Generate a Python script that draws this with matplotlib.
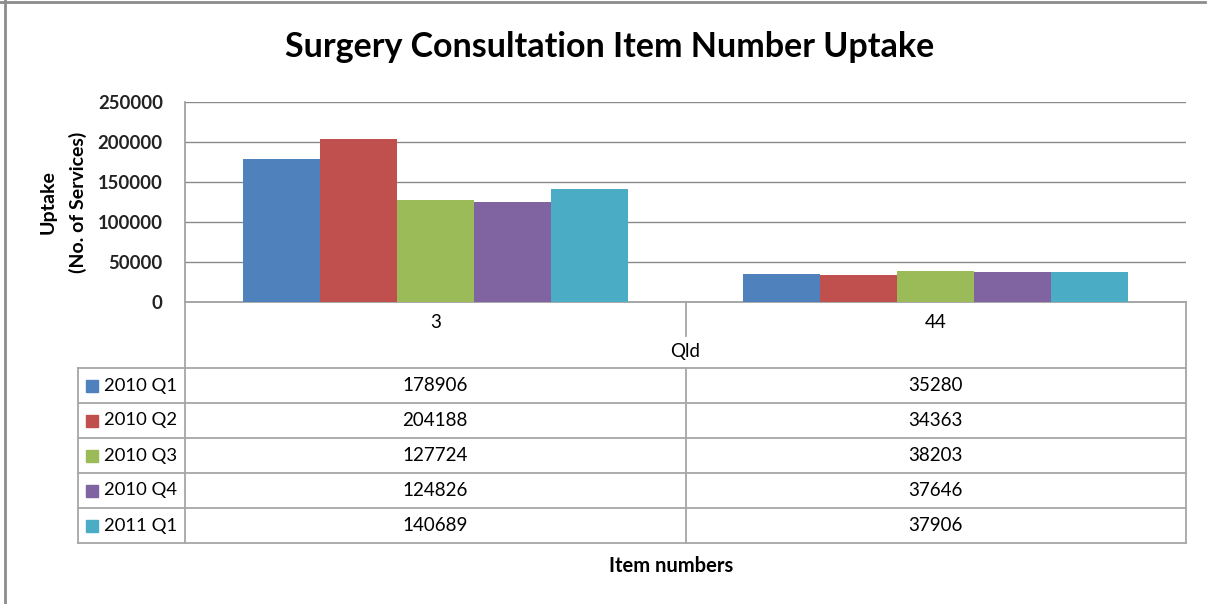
import numpy as np
import matplotlib
matplotlib.use("Agg")
import matplotlib.pyplot as plt
from matplotlib.lines import Line2D
from matplotlib.patches import Rectangle

plt.rcParams["font.family"] = ["Lato", "DejaVu Sans"]

# data
categories = ["3", "44"]
group_label = "Qld"
series_names = ["2010 Q1", "2010 Q2", "2010 Q3", "2010 Q4", "2011 Q1"]
q1_2010 = [178906, 35280]
q2_2010 = [204188, 34363]
q3_2010 = [127724, 38203]
q4_2010 = [124826, 37646]
q1_2011 = [140689, 37906]
series_values = [q1_2010, q2_2010, q3_2010, q4_2010, q1_2011]
colors = ["#4F81BD", "#C0504D", "#9BBB59", "#8064A2", "#4BACC6"]

W, H = 1207, 604
fig = plt.figure(figsize=(W / 100, H / 100), dpi=100)

# plot area (pixel layout)
left, right, top, bottom = 185, 1186, 102, 302
ax = fig.add_axes([left / W, (H - bottom) / H, (right - left) / W, (bottom - top) / H])

x = np.arange(len(categories))
bw = 0.154
for k, (name, vals) in enumerate(zip(series_names, series_values)):
    ax.bar(x + (k - 2) * bw, vals, width=bw, color=colors[k], zorder=3, label=name)

ax.set_xlim(-0.5, len(categories) - 0.5)
ax.set_ylim(0, 250000)
ax.set_yticks(np.arange(0, 250001, 50000))
ax.set_yticklabels([str(v) for v in range(0, 250001, 50000)], fontsize=13.3,
                   fontweight="bold", color="#222222")
ax.set_xticks([])
ax.tick_params(axis="y", length=0, pad=16)
ax.yaxis.grid(True, color="#8a8a8a", lw=1, zorder=0)
for s in ["top", "right"]:
    ax.spines[s].set_visible(False)
ax.spines["left"].set_color("#9a9a9a")
ax.spines["bottom"].set_color("#9a9a9a")
ax.spines["left"].set_linewidth(1.2)
ax.spines["bottom"].set_linewidth(1.2)

# y axis title, two lines
ax.text((48 - left) / (right - left), 0.5, "Uptake",
        transform=ax.transAxes, rotation=90, ha="center", va="center",
        fontsize=14, fontweight="bold")
ax.text((78 - left) / (right - left), 0.5, "(No. of Services)",
        transform=ax.transAxes, rotation=90, ha="center", va="center",
        fontsize=14, fontweight="bold")

# overlay in pixel coordinates for the data table and frame
ov = fig.add_axes([0, 0, 1, 1])
ov.set_xlim(0, W)
ov.set_ylim(H, 0)
ov.axis("off")
ov.patch.set_visible(False)

lc = "#a6a6a6"
def hline(y, x0, x1, c=lc, lw=1.3):
    ov.add_line(Line2D([x0, x1], [y, y], color=c, lw=lw))
def vline(xp, y0, y1, c=lc, lw=1.3):
    ov.add_line(Line2D([xp, xp], [y0, y1], color=c, lw=lw))

# category centres from the bar axis
cx = [ax.transData.transform((i, 0))[0] for i in x]
mid = (cx[0] + cx[1]) / 2

tab_left = 78
row_top = 368
row_h = 35
n_rows = len(series_names)
tab_bottom = row_top + row_h * n_rows

vline(left, bottom, tab_bottom)
vline(right, bottom, tab_bottom)
vline(mid, bottom, 336)
vline(mid, row_top, tab_bottom)
vline(tab_left, row_top, tab_bottom)
for r in range(n_rows + 1):
    hline(row_top + r * row_h, tab_left, right)

for i, c in enumerate(categories):
    ov.text(cx[i], 323, c, ha="center", va="center", fontsize=13.5)
ov.text(mid, 352, group_label, ha="center", va="center", fontsize=13.5)

for r, (name, vals) in enumerate(zip(series_names, series_values)):
    yc = row_top + r * row_h + row_h / 2
    ov.add_patch(Rectangle((86, yc - 6), 12, 12, color=colors[r]))
    ov.text(104, yc, name, ha="left", va="center", fontsize=13.3)
    for i in range(len(categories)):
        ov.text(cx[i], yc, str(vals[i]), ha="center", va="center", fontsize=13.5)

ov.text(671, 566, "Item numbers", ha="center", va="center", fontsize=14.5,
        fontweight="bold")

# title
ov.text(610, 47, "Surgery Consultation Item Number Uptake", ha="center",
        va="center", fontsize=24.5, fontweight="bold")

# outer chart frame
hline(2, 0, 1205, c="#8c8c8c", lw=2)
vline(5, 0, H, c="#8c8c8c", lw=2)

fig.savefig("out.png", dpi=100)
